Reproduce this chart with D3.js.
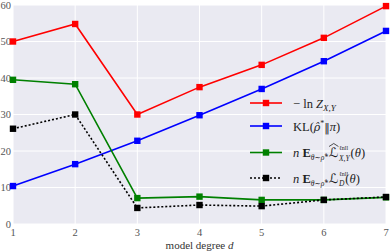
<!DOCTYPE html>
<html>
<head>
<meta charset="utf-8">
<script src="https://cdn.jsdelivr.net/npm/d3@7"></script>
<style>
  body { margin: 0; background: #fff; }
  svg text { font-family: "Liberation Serif", "DejaVu Serif", serif; }
  .m { font-family: "DejaVu Serif", serif; }
</style>
</head>
<body>
<script>
const degrees = [1, 2, 3, 4, 5, 6, 7];
const negLogZ = [50, 54.8, 30, 37.5, 43.6, 51, 59.7];
const klDiv = [10.4, 16.4, 22.8, 29.8, 37, 44.6, 52.9];
const empLoss = [39.5, 38.3, 7.1, 7.5, 6.6, 6.6, 7.3];
const trueLoss = [26.1, 30, 4.4, 5.2, 4.9, 6.6, 7.4];
const yTicks = [0, 10, 20, 30, 40, 50, 60];

const w = 390;
const h = 251;
const m = { left: 13, right: 4, top: 5, bottom: 27 };

const svg = d3.select("body").append("svg")
  .attr("width", w)
  .attr("height", h);

const x = d3.scaleLinear().domain([1, 7]).range([m.left, w - m.right]);
const y = d3.scaleLinear().domain([0, 60]).range([h - m.bottom, m.top]);

svg.append("rect")
  .attr("x", m.left).attr("y", m.top)
  .attr("width", w - m.right - m.left)
  .attr("height", h - m.bottom - m.top)
  .attr("fill", "#eaeaf2");

// grid
svg.append("g").selectAll("line").data(degrees).enter().append("line")
  .attr("x1", d => x(d)).attr("x2", d => x(d))
  .attr("y1", m.top).attr("y2", h - m.bottom)
  .attr("stroke", "#fff").attr("stroke-width", 1);
svg.append("g").selectAll("line").data(yTicks).enter().append("line")
  .attr("y1", d => y(d)).attr("y2", d => y(d))
  .attr("x1", m.left).attr("x2", w - m.right)
  .attr("stroke", "#fff").attr("stroke-width", 1);

// tick labels
svg.append("g").selectAll("text").data(yTicks).enter().append("text")
  .attr("x", m.left - 2).attr("y", d => y(d) + 3.5)
  .attr("text-anchor", "end")
  .attr("font-size", 10.5).attr("fill", "#555")
  .text(d => d);
svg.append("g").selectAll("text").data(degrees).enter().append("text")
  .attr("x", d => x(d)).attr("y", h - m.bottom + 12)
  .attr("text-anchor", "middle")
  .attr("font-size", 10.5).attr("fill", "#555")
  .text(d => d);

const xl = svg.append("text")
  .attr("x", (m.left + w - m.right) / 2).attr("y", h - 2)
  .attr("text-anchor", "middle")
  .attr("font-size", 11).attr("fill", "#333")
  .text("model degree ");
xl.append("tspan").attr("font-style", "italic").text("d");

const series = [
  { vals: negLogZ, color: "#ff0000", dash: null },
  { vals: klDiv, color: "#0000ff", dash: null },
  { vals: empLoss, color: "#008000", dash: null },
  { vals: trueLoss, color: "#000000", dash: "2,2" }
];

const line = d3.line().x((d, i) => x(degrees[i])).y(d => y(d));

series.forEach(s => {
  svg.append("path")
    .attr("d", line(s.vals))
    .attr("fill", "none")
    .attr("stroke", s.color)
    .attr("stroke-width", 1.6)
    .attr("stroke-dasharray", s.dash);
  svg.append("g").selectAll("rect").data(s.vals).enter().append("rect")
    .attr("x", (d, i) => x(degrees[i]) - 3.2)
    .attr("y", d => y(d) - 3.2)
    .attr("width", 6.4).attr("height", 6.4)
    .attr("fill", s.color);
});

// legend
const legY = [103, 126, 152.5, 178];
const lg = svg.append("g");
series.forEach((s, i) => {
  lg.append("line")
    .attr("x1", 250).attr("x2", 282)
    .attr("y1", legY[i]).attr("y2", legY[i])
    .attr("stroke", s.color).attr("stroke-width", 1.6)
    .attr("stroke-dasharray", s.dash);
  lg.append("rect")
    .attr("x", 266 - 3.2).attr("y", legY[i] - 3.2)
    .attr("width", 6.4).attr("height", 6.4)
    .attr("fill", s.color);
});

const fs = 12.5;
function label(i) {
  return lg.append("text").attr("x", 293).attr("y", legY[i] + 4.5)
    .attr("font-size", fs).attr("fill", "#222");
}
let t = label(0);
t.append("tspan").text("\u2212 ln ");
t.append("tspan").attr("font-style", "italic").text("Z");
t.append("tspan").attr("font-style", "italic").attr("font-size", 9).attr("dy", 3).text("X,Y");

t = label(1);
t.append("tspan").text("KL(");
t.append("tspan").attr("class", "m").attr("font-style", "italic").attr("font-size", 11).text("\u03c1\u0302");
t.append("tspan").attr("font-size", 8).attr("dy", -5).text("*");
t.append("tspan").attr("class", "m").attr("font-size", 11).attr("dy", 5).text("\u2016");
t.append("tspan").attr("font-style", "italic").text("\u03c0");
t.append("tspan").text(")");

function lossLabel(i, hat, sub) {
  const t = label(i);
  t.append("tspan").attr("font-style", "italic").text("n ");
  t.append("tspan").attr("font-weight", "bold").text("E");
  t.append("tspan").attr("font-style", "italic").attr("font-size", 7.5).attr("dy", 3).text("\u03b8\u223c\u03c1\u0302*");
  t.append("tspan").attr("dy", -3).attr("dx", 1).attr("font-style", "italic")
    .attr("font-size", 13).attr("font-family", "DejaVu Sans").text("\u2112");
  const n = t.node();
  const li = n.textContent.length - 1;
  const ext = n.getExtentOfChar(li);
  const sx = ext.x + ext.width + 0.5;
  t.append("tspan").attr("font-size", 6).attr("x", sx).attr("dy", -7).text("\u2113nll");
  t.append("tspan").attr("font-style", "italic").attr("font-size", 7.5)
    .attr("x", sx).attr("dy", 10.5).text(sub);
  t.append("tspan").attr("dy", -3.5).attr("dx", 1).text("(");
  t.append("tspan").attr("font-style", "italic").text("\u03b8");
  t.append("tspan").text(")");
  if (hat) {
    const x0 = ext.x, x1 = ext.x + ext.width, yt = ext.y - 0.5;
    lg.append("path")
      .attr("d", `M${x0},${yt + 2} L${(x0 + x1) / 2},${yt - 1} L${x1},${yt + 2}`)
      .attr("fill", "none").attr("stroke", "#222").attr("stroke-width", 0.8);
  }
}
lossLabel(2, true, "X,Y");
lossLabel(3, false, "D");
</script>
</body>
</html>
